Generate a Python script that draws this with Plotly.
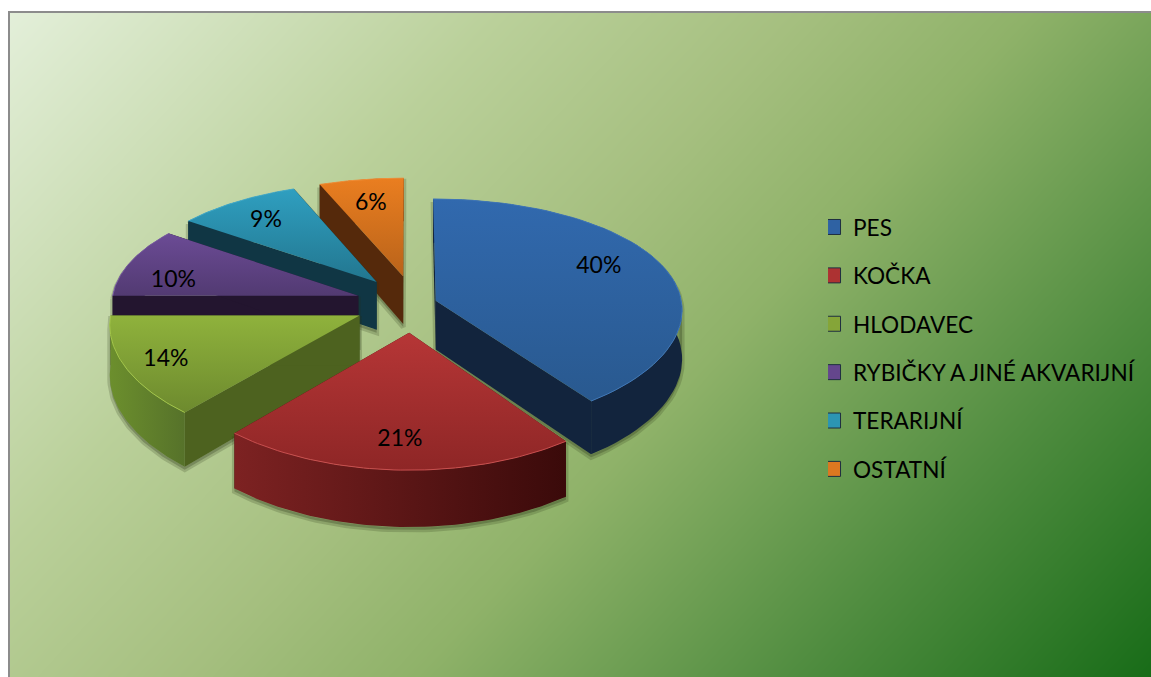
import numpy as np
import plotly.graph_objects as go

# chart data
categories = ["PES", "KOČKA", "HLODAVEC", "RYBIČKY A JINÉ AKVARIJNÍ", "TERARIJNÍ", "OSTATNÍ"]
values = [40, 21.4, 13.6, 10, 9, 6]

# colours per slice
top_first = ["#3169ae", "#b63636", "#8fb23c", "#6b4b95", "#2f9fc0", "#ea7e20"]
top_last = ["#29598f", "#8e2626", "#6d8a2e", "#523a72", "#22768f", "#b9631a"]
wall_left = ["#12243d", "#7d2222", "#6c8f2d", "#23152f", "#103644", "#55290b"]
wall_right = ["#12243d", "#3a0a0a", "#56722a", "#23152f", "#103644", "#55290b"]
cut_colors = ["#12243d", "#4a1010", "#4d621f", "#23152f", "#103644", "#55290b"]
rim_colors = ["#3f76b8", "#c94f4f", "#a3c64a", "#7a5ea3", "#45acca", "#f08f38"]
legend_colors = ["#2f62a3", "#ad3232", "#85a538", "#64468c", "#2c95b3", "#dc7820"]

# projection of the tilted pie, in page pixels
CX, CY = 396, 305
RX, RY = 247, 115
PERSP_X, PERSP_Y = 0.07, 0.11
EXPLODE_X, EXPLODE_Y = 0.17, 0.26
DEPTH = 49
# small per slice offsets on top of the explosion
nudge_x = [0, 15, 2, 2, 6, 15]
nudge_y = [5, -3, -2, 0, 0, 0]
label_radius = [0.76, 0.78, 0.83, 0.78, 0.78, 0.76]
label_turn = [-8, 0, 0, -6, 0, 0]  # degrees
LABEL_DROP = 3


def project(theta, r, mid, i, drop=0.0):
    u = r * np.sin(theta) + EXPLODE_X * np.sin(mid)
    v = r * np.cos(theta) + EXPLODE_Y * np.cos(mid)
    sx = 1 / (1 + PERSP_X * v)
    sy = 1 / (1 + PERSP_Y * v)
    return CX + nudge_x[i] + RX * u * sx, CY + nudge_y[i] - RY * v * sy + drop * DEPTH * sy


def hull(xs, ys):
    pts = sorted(set(zip(np.round(xs, 2).tolist(), np.round(ys, 2).tolist())))

    def half(points):
        out = []
        for p in points:
            while len(out) > 1 and (out[-1][0] - out[-2][0]) * (p[1] - out[-2][1]) - (out[-1][1] - out[-2][1]) * (p[0] - out[-2][0]) <= 0:
                out.pop()
            out.append(p)
        return out[:-1]

    ring = half(pts) + half(pts[::-1])
    ring.append(ring[0])
    return [p[0] for p in ring], [p[1] for p in ring]


def poly(xs, ys, color=None, gradient=None):
    trace = dict(x=xs, y=ys, mode="lines", fill="toself", line=dict(width=0), hoverinfo="skip", showlegend=False)
    if gradient:
        trace["fillgradient"] = gradient
    else:
        trace["fillcolor"] = color
    return go.Scatter(**trace)


fig = go.Figure()

# background gradient
bg_x = np.linspace(10, 1151, 160)
bg_y = np.linspace(13, 677, 100)
bg_z = 0.65 * (bg_x[None, :] - 10) / 1141 + 0.35 * (bg_y[:, None] - 13) / 664
fig.add_trace(go.Heatmap(
    x=bg_x, y=bg_y, z=bg_z, zmin=0, zmax=1, zsmooth="best", showscale=False, hoverinfo="skip",
    colorscale=[[0, "#e3efd9"], [0.28, "#bad09a"], [0.45, "#a5bf7f"], [0.58, "#8fb269"],
                [0.8, "#4f8c3f"], [1, "#186c18"]],
))

fractions = np.array(values) / sum(values)
ends = np.cumsum(fractions) * 2 * np.pi
starts = ends - fractions * 2 * np.pi

# back slices first, the red one stays in front
for i in [5, 4, 3, 2, 0, 1]:
    t0, t1 = starts[i], ends[i]
    mid = (t0 + t1) / 2
    arc = np.linspace(t0, t1, 60)

    ax, ay = project(arc, 1.0, mid, i)
    bx, by = project(arc, 1.0, mid, i, 1.0)
    px, py = project(mid, 0.0, mid, i)
    qx, qy = project(mid, 0.0, mid, i, 1.0)

    # soft shadow
    sx, sy = hull(np.r_[ax, bx, px, qx], np.r_[ay, by, py, qy])
    fig.add_trace(go.Scatter(x=sx, y=np.array(sy) + 3, mode="lines", fill="toself",
                             fillcolor="rgba(40,50,20,0.28)", line=dict(width=5, color="rgba(40,50,20,0.2)"),
                             hoverinfo="skip", showlegend=False))

    # cut faces
    for t in (t0, t1):
        ex, ey = project(t, 1.0, mid, i)
        fx, fy = project(t, 1.0, mid, i, 1.0)
        fig.add_trace(poly([px, ex, fx, qx, px], [py, ey, fy, qy, py], color=cut_colors[i]))

    # outer wall
    wall = dict(type="horizontal", colorscale=[[0, wall_left[i]], [1, wall_right[i]]])
    fig.add_trace(poly(np.r_[ax, bx[::-1], ax[0]], np.r_[ay, by[::-1], ay[0]], gradient=wall))

    # top face
    top = dict(type="vertical", colorscale=[[0, top_last[i]], [1, top_first[i]]])
    fig.add_trace(poly(np.r_[px, ax, px], np.r_[py, ay, py], gradient=top))
    fig.add_trace(go.Scatter(x=ax, y=ay, mode="lines", line=dict(width=1, color=rim_colors[i]),
                             hoverinfo="skip", showlegend=False))

# percentage labels
mids = (starts + ends) / 2
label_xy = [project(mids[i] + np.radians(label_turn[i]), label_radius[i], mids[i], i) for i in range(len(values))]
fig.add_trace(go.Scatter(x=[p[0] for p in label_xy], y=[p[1] + LABEL_DROP for p in label_xy], mode="text",
                         text=[f"{v:.0f}%" for v in values], textposition="middle center",
                         textfont=dict(family="Lato", size=23, color="#000000"), hoverinfo="skip", showlegend=False))

# legend entries
for i, name in enumerate(categories):
    fig.add_trace(go.Scatter(x=[None], y=[None], mode="markers", name=name, legendgroup=name,
                             marker=dict(symbol="square", size=15, color=legend_colors[i],
                                         line=dict(width=1, color="#1f2f40"))))

fig.update_layout(
    width=1151, height=677,
    margin=dict(l=0, r=0, t=0, b=0),
    paper_bgcolor="#ffffff",
    plot_bgcolor="#ffffff",
    font=dict(family="Lato", size=22.6, color="#000000"),
    xaxis=dict(domain=[10 / 1151, 1], range=[10, 1151], visible=True, showgrid=False, zeroline=False,
               showticklabels=False, ticks="", side="top", showline=True, linecolor="#8c8c8c", linewidth=2),
    yaxis=dict(domain=[0, 1 - 13 / 677], range=[677, 13], showgrid=False, zeroline=False,
               showticklabels=False, ticks="", showline=True, linecolor="#8c8c8c", linewidth=2),
    legend=dict(x=0.7194, y=0.696, xanchor="left", yanchor="top", bgcolor="rgba(0,0,0,0)",
                tracegroupgap=16, itemwidth=30, indentation=-15),
)

# the page would otherwise keep the browser's default body margin
fig.write_html("out.html", config={"displayModeBar": False},
               post_script="document.body.style.margin='0';")
